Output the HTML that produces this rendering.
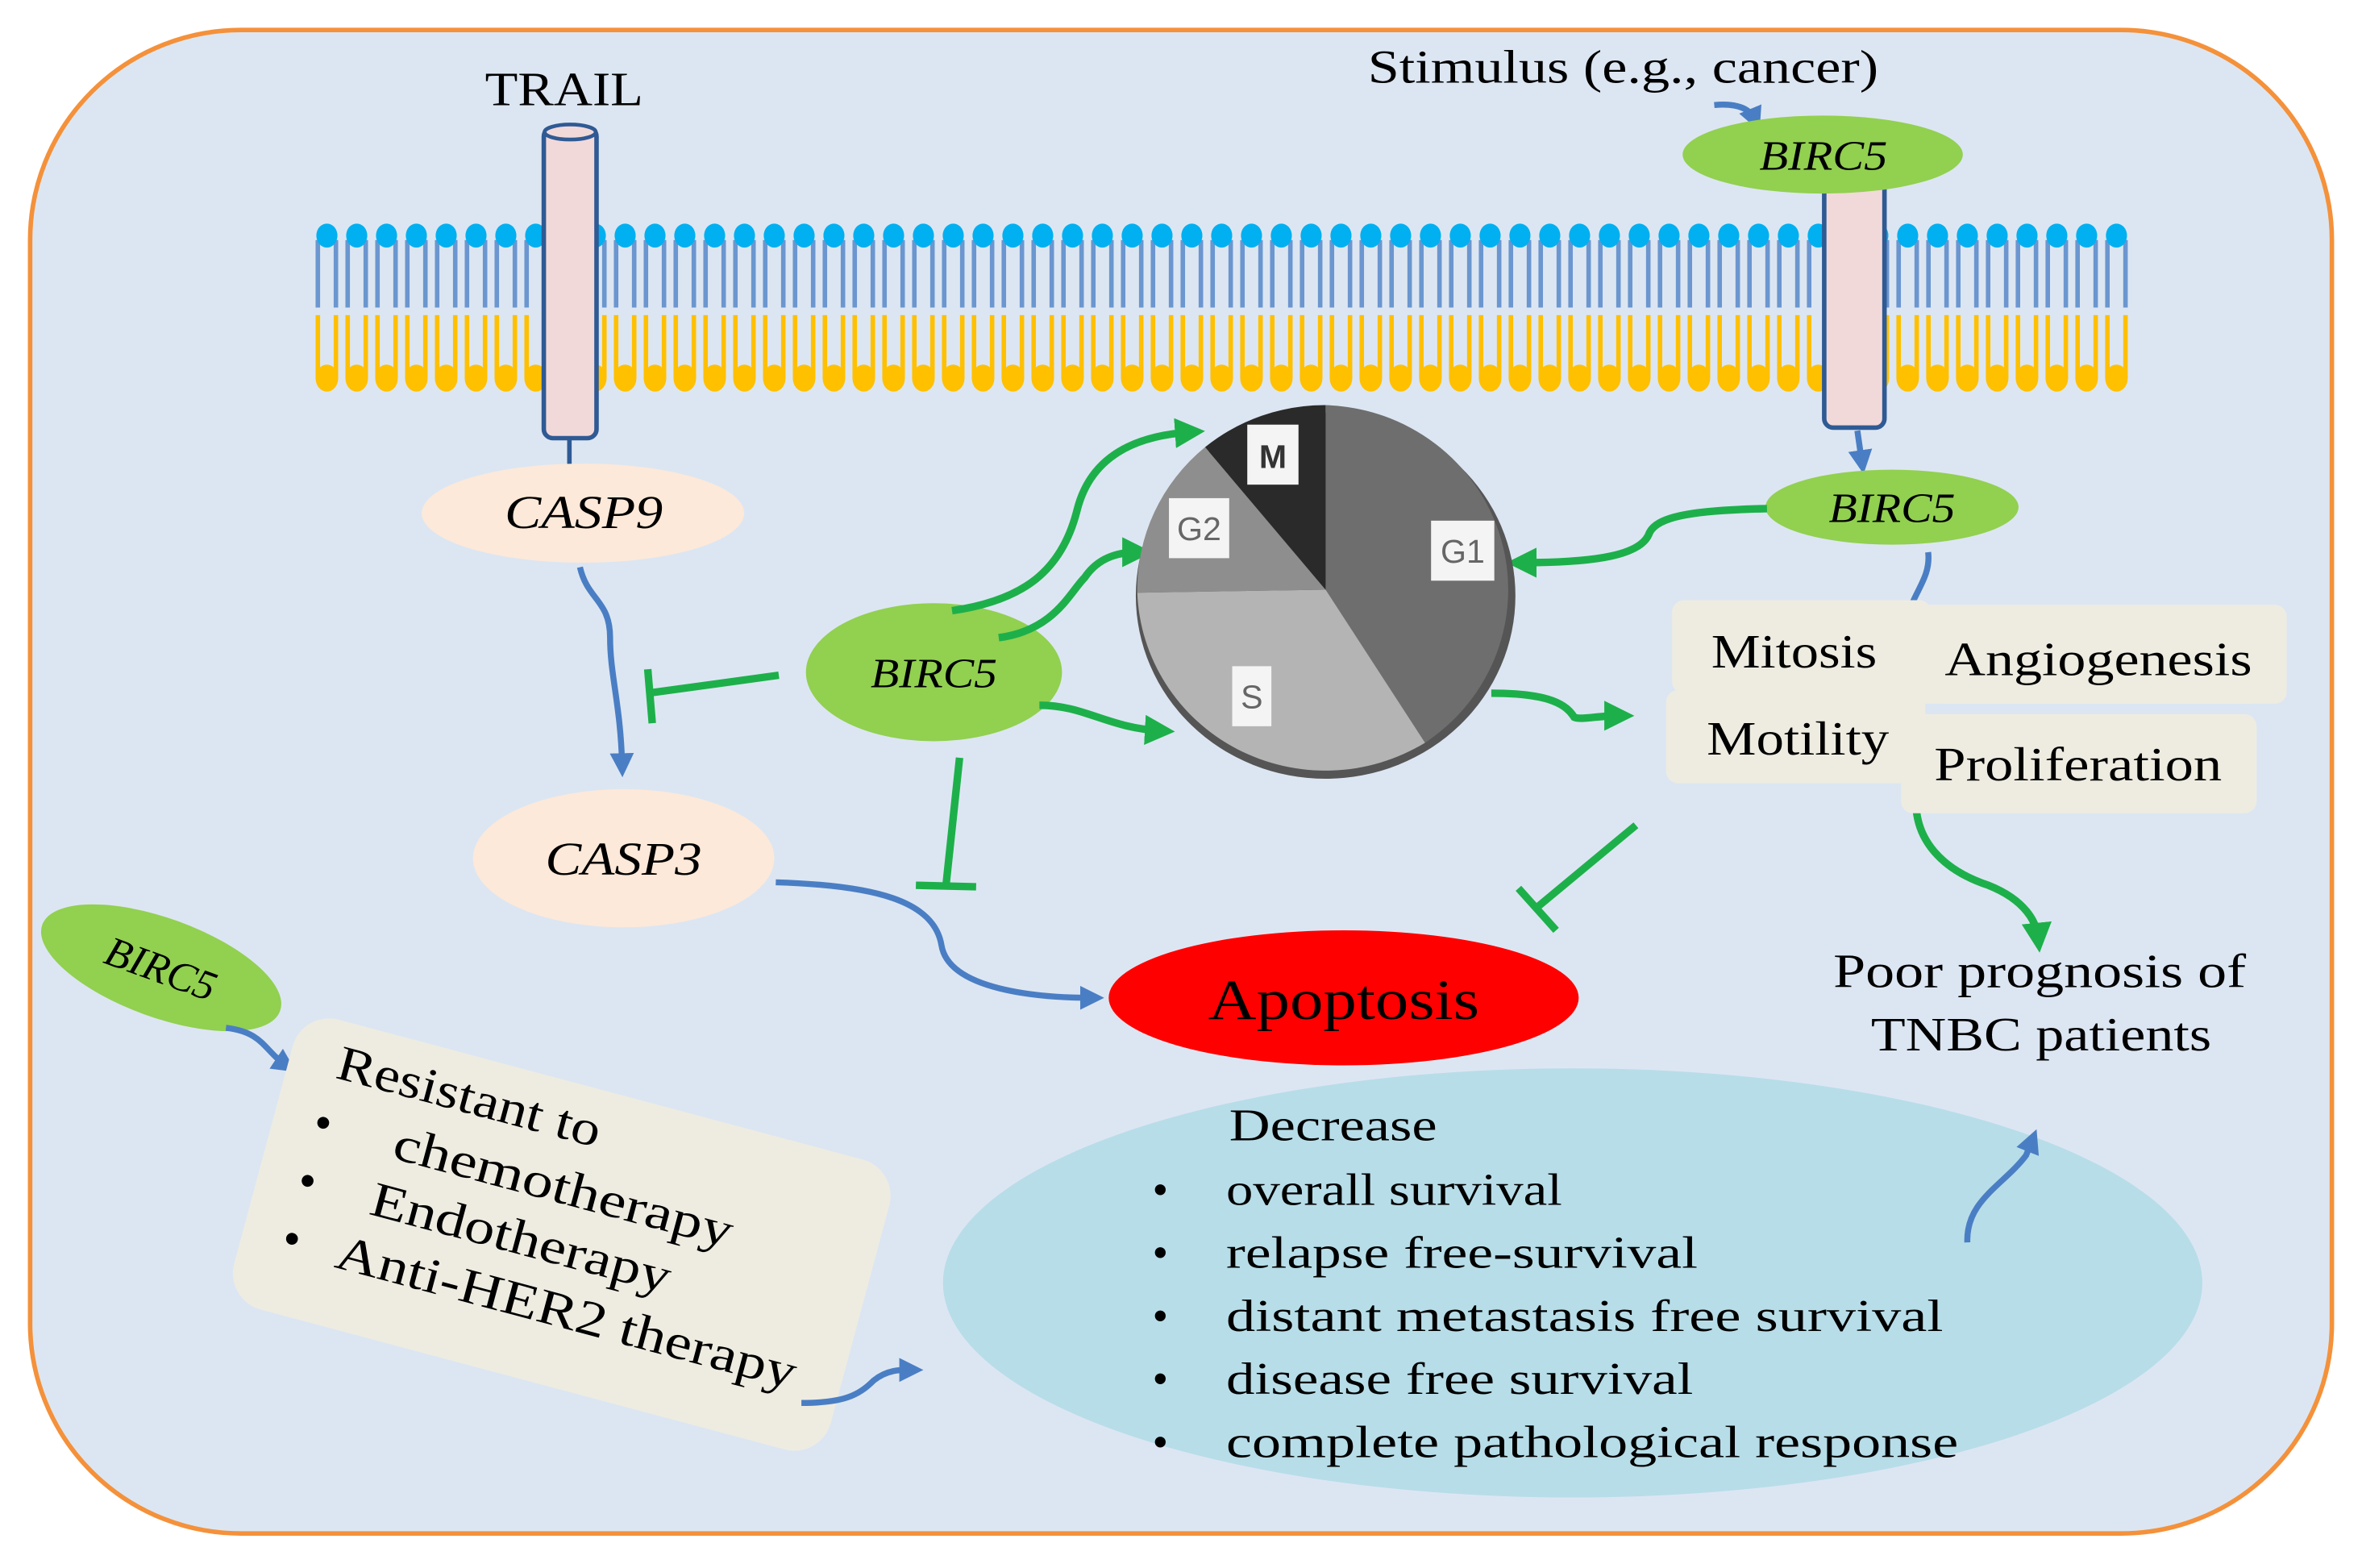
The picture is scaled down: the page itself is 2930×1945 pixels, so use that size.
<!DOCTYPE html>
<html><head><meta charset="utf-8"><style>html,body{margin:0;padding:0;background:#fff}svg{display:block}</style></head>
<body>
<svg id="s" width="2930" height="1945" viewBox="0 0 1568 1045" preserveAspectRatio="none" xmlns="http://www.w3.org/2000/svg" font-family="Liberation Serif, serif">
<defs>
<marker id="ab" viewBox="0 0 10 10" refX="5" refY="5" markerWidth="4" markerHeight="4" orient="auto"><path d="M0,0L10,5L0,10z" fill="#4a7ec4"/></marker>
<marker id="ag" viewBox="0 0 10 10" refX="5" refY="5" markerWidth="4" markerHeight="4" orient="auto"><path d="M0,0L10,5L0,10z" fill="#1db04a"/></marker>
</defs>
<rect x="20" y="20" width="1528" height="1002" rx="140" fill="#dce6f2" stroke="#f4913a" stroke-width="3"/>
<g id="mem"></g>
<rect x="361" y="85" width="35" height="207" rx="6" fill="#f2d9d9" stroke="#2f5a94" stroke-width="3"/>
<ellipse cx="378.5" cy="88" rx="17" ry="5" fill="#f2d9d9" stroke="#2f5a94" stroke-width="2.5"/>
<text x="322" y="70" font-size="32" textLength="105" lengthAdjust="spacingAndGlyphs">TRAIL</text>
<rect x="1211" y="110" width="40" height="175" rx="6" fill="#f2d9d9" stroke="#2f5a94" stroke-width="3"/>
<text x="908" y="55" font-size="31" textLength="339" lengthAdjust="spacingAndGlyphs">Stimulus  (e.g., cancer)</text>
<path d="M1138,70 Q1160,68 1165,80" fill="none" stroke="#4a7ec4" stroke-width="4" marker-end="url(#ab)"/>
<ellipse cx="1210" cy="103" rx="93" ry="26" fill="#92d050"/>
<text x="1168" y="113" font-size="28" font-style="italic" textLength="85" lengthAdjust="spacingAndGlyphs">BIRC5</text>
<path d="M1233,287 L1236,308" stroke="#4a7ec4" stroke-width="4" marker-end="url(#ab)"/>
<ellipse cx="1256" cy="338" rx="84" ry="25" fill="#92d050"/>
<text x="1214" y="348" font-size="28" font-style="italic" textLength="84" lengthAdjust="spacingAndGlyphs">BIRC5</text>
<line x1="378" y1="292" x2="378" y2="310" stroke="#2f5a94" stroke-width="3"/>
<ellipse cx="387" cy="342" rx="107" ry="33" fill="#fde9d9"/>
<text x="335" y="352" font-size="31" font-style="italic" textLength="105" lengthAdjust="spacingAndGlyphs">CASP9</text>
<path d="M385,378 C390,400 405,400 405,425 C405,450 412,470 413,510" fill="none" stroke="#4a7ec4" stroke-width="4" marker-end="url(#ab)"/>
<ellipse cx="414" cy="572" rx="100" ry="46" fill="#fde9d9"/>
<text x="362" y="583" font-size="31" font-style="italic" textLength="104" lengthAdjust="spacingAndGlyphs">CASP3</text>
<path d="M515,588 C580,590 620,600 625,630 C630,660 690,665 725,665" fill="none" stroke="#4a7ec4" stroke-width="4" marker-end="url(#ab)"/>
<ellipse cx="892" cy="665" rx="156" ry="45" fill="#ff0000"/>
<text x="802" y="679" font-size="38" textLength="180" lengthAdjust="spacingAndGlyphs">Apoptosis</text>
<ellipse cx="620" cy="448" rx="85" ry="46" fill="#92d050"/>
<text x="578" y="458" font-size="28" font-style="italic" textLength="84" lengthAdjust="spacingAndGlyphs">BIRC5</text>
<g stroke="#1db04a" stroke-width="5" fill="none">
<path d="M517,450 L430,462"/><path d="M430,446 L433,482"/>
<path d="M637,505 L628,590"/><path d="M608,590 L648,591"/>
<path d="M1086,550 L1020,605"/><path d="M1008,592 L1033,620"/>
<path d="M632,407 C680,400 705,380 715,340 C725,300 760,290 790,288" marker-end="url(#ag)"/>
<path d="M663,425 C700,420 710,395 720,385 C730,370 745,368 755,368" marker-end="url(#ag)"/>
<path d="M690,470 C720,470 735,485 770,487" marker-end="url(#ag)"/>
<path d="M1173,339 C1120,340 1100,345 1095,355 C1090,370 1060,375 1010,375" marker-end="url(#ag)"/>
<path d="M990,462 C1030,462 1040,470 1045,478 C1050,480 1060,477 1075,477" marker-end="url(#ag)"/>
<path d="M1272,530 C1270,560 1290,580 1320,590 C1345,600 1352,615 1353,625" marker-end="url(#ag)"/>
</g>
<ellipse cx="880" cy="397" rx="126" ry="122" fill="#555"/>
<path d="M880,393 L880,270 A125,123 0 0,1 946,495 Z" fill="#6e6e6e"/>
<path d="M880,393 L946,495 A125,123 0 0,1 755,395 Z" fill="#b4b4b4"/>
<path d="M880,393 L755,395 A125,123 0 0,1 800,298 Z" fill="#8e8e8e"/>
<path d="M880,393 L800,298 A125,123 0 0,1 880,270 Z" fill="#2a2a2a"/>
<g font-family="Liberation Sans, sans-serif" font-size="22" fill="#666" text-anchor="middle">
<rect x="828" y="283" width="34" height="40" fill="#f4f4f4"/><text x="845" y="312" fill="#333" font-weight="bold">M</text>
<rect x="776" y="332" width="40" height="40" fill="#f4f4f4"/><text x="796" y="360">G2</text>
<rect x="950" y="347" width="42" height="40" fill="#f4f4f4"/><text x="971" y="375">G1</text>
<rect x="818" y="444" width="26" height="40" fill="#f4f4f4"/><text x="831" y="472">S</text>
</g>
<path d="M1280,368 C1282,385 1270,395 1267,410" fill="none" stroke="#4a7ec4" stroke-width="4" marker-end="url(#ab)"/>
<rect x="1110" y="400" width="172" height="62" rx="8" fill="#eeece1"/>
<rect x="1268" y="403" width="250" height="66" rx="8" fill="#eeece1"/>
<rect x="1106" y="460" width="172" height="62" rx="8" fill="#eeece1"/>
<rect x="1262" y="476" width="236" height="66" rx="8" fill="#eeece1"/>
<g font-size="32" lengthAdjust="spacingAndGlyphs">
<text x="1136" y="445" textLength="110" lengthAdjust="spacingAndGlyphs">Mitosis</text>
<text x="1291" y="450" textLength="204" lengthAdjust="spacingAndGlyphs">Angiogenesis</text>
<text x="1133" y="503" textLength="121" lengthAdjust="spacingAndGlyphs">Motility</text>
<text x="1284" y="520" textLength="191" lengthAdjust="spacingAndGlyphs">Proliferation</text></g>
<text x="1217" y="658" font-size="32" textLength="274" lengthAdjust="spacingAndGlyphs">Poor prognosis  of</text>
<text x="1242" y="700" font-size="32" textLength="226" lengthAdjust="spacingAndGlyphs">TNBC patients</text>
<ellipse cx="1044" cy="855" rx="418" ry="143" fill="#b7dde8"/>
<path d="M1306,828 C1305,800 1330,790 1345,770 L1349,760" fill="none" stroke="#4a7ec4" stroke-width="4" marker-end="url(#ab)"/>
<g font-size="30"><text x="816" y="760" textLength="138" lengthAdjust="spacingAndGlyphs">Decrease</text>
<text x="765" y="803">•</text><text x="814" y="803" textLength="223" lengthAdjust="spacingAndGlyphs">overall survival</text>
<text x="765" y="845">•</text><text x="814" y="845" textLength="313" lengthAdjust="spacingAndGlyphs">relapse  free-survival</text>
<text x="765" y="887">•</text><text x="814" y="887" textLength="476" lengthAdjust="spacingAndGlyphs">distant  metastasis  free survival</text>
<text x="765" y="929">•</text><text x="814" y="929" textLength="310" lengthAdjust="spacingAndGlyphs">disease  free survival</text>
<text x="765" y="971">•</text><text x="814" y="971" textLength="486" lengthAdjust="spacingAndGlyphs">complete  pathological  response</text></g>
<ellipse cx="107" cy="645" rx="84" ry="33" transform="rotate(20 107 645)" fill="#92d050"/>
<text x="107" y="655" font-size="28" font-style="italic" text-anchor="middle" transform="rotate(20 107 645)">BIRC5</text>
<path d="M150,685 C175,688 175,700 190,710" fill="none" stroke="#4a7ec4" stroke-width="4" marker-end="url(#ab)"/>
<g transform="rotate(15 370 822)">
<rect x="168" y="722" width="410" height="200" rx="25" fill="#eeece1"/>
<g font-size="33"><text x="200" y="760" textLength="180" lengthAdjust="spacingAndGlyphs">Resistant  to</text>
<text x="195" y="802">•</text><text x="250" y="802" textLength="232" lengthAdjust="spacingAndGlyphs">chemotherapy</text>
<text x="195" y="842">•</text><text x="245" y="842" textLength="205" lengthAdjust="spacingAndGlyphs">Endotherapy</text>
<text x="195" y="882">•</text><text x="232" y="882" textLength="315" lengthAdjust="spacingAndGlyphs">Anti-HER2 therapy</text></g>
</g>
<path d="M532,935 C560,935 570,930 580,920 C590,912 600,913 605,913" fill="none" stroke="#4a7ec4" stroke-width="4" marker-end="url(#ab)"/>
</svg>
<script>
var g=document.getElementById('mem'),h='';
for(var x=217;x<=1406;x+=19.8){
h+='<path d="M'+(x-6)+',205 L'+(x-6)+',160 M'+(x+6)+',205 L'+(x+6)+',160" stroke="#6b96cf" stroke-width="3"/>';
h+='<ellipse cx="'+x+'" cy="157" rx="7" ry="8" fill="#00b0f0"/>';
h+='<path d="M'+(x-6)+',210 L'+(x-6)+',252 M'+(x+6)+',210 L'+(x+6)+',252" stroke="#ffc000" stroke-width="3"/>';
h+='<ellipse cx="'+x+'" cy="252" rx="7.5" ry="9" fill="#ffc000"/>';
}
g.innerHTML=h;
</script>
</body></html>
